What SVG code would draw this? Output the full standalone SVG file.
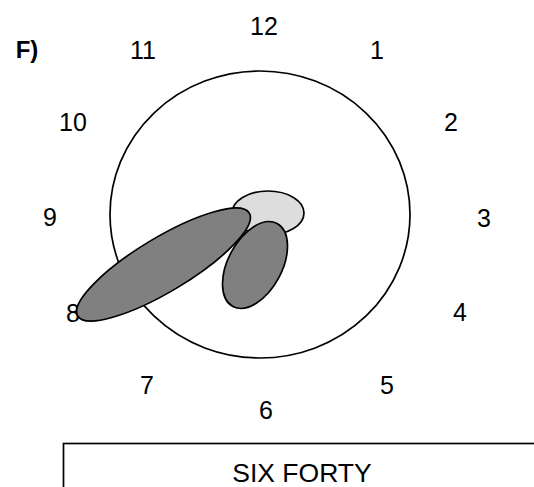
<svg xmlns="http://www.w3.org/2000/svg" width="534" height="487" viewBox="0 0 534 487">
<style>
.n{font-family:"Liberation Sans",Arial,sans-serif;font-size:25px;fill:#000;text-anchor:middle}
.o{stroke:#000;stroke-width:1.7}
</style>
<rect width="534" height="487" fill="#fff"/>
<text x="27" y="58" style="font-family:'Liberation Sans',Arial,sans-serif;font-size:24px;font-weight:bold;text-anchor:middle">F)</text>
<g id="numbers">
<text class="n" x="264" y="35">12</text>
<text class="n" x="143" y="59">11</text>
<text class="n" x="377" y="59">1</text>
<text class="n" x="73" y="131">10</text>
<text class="n" x="451" y="131">2</text>
<text class="n" x="50" y="226">9</text>
<text class="n" x="484" y="227">3</text>
<text class="n" x="460" y="321">4</text>
<text class="n" x="387" y="394">5</text>
<text class="n" x="266" y="419">6</text>
<text class="n" x="147" y="394">7</text>
<text class="n" x="73" y="322">8</text>
</g>
<g id="clock"><ellipse cx="260" cy="214.5" rx="150" ry="143.5" fill="none" class="o"/></g>
<g id="hub"><ellipse cx="268" cy="213" rx="36" ry="22" fill="#dddddd" class="o"/></g>
<g id="minute-hand"><ellipse cx="255" cy="265" rx="27" ry="47" transform="rotate(28 255 265)" fill="#808080" class="o"/></g>
<g id="hour-hand"><ellipse cx="163.5" cy="264.5" rx="100" ry="27" transform="rotate(-31 163.5 264.5)" fill="#808080" class="o"/></g>
<g id="label"><rect x="63.5" y="443.5" width="480" height="60" fill="none" class="o"/>
<text class="n" x="302" y="482" style="font-size:26.5px">SIX FORTY</text></g>
</svg>
